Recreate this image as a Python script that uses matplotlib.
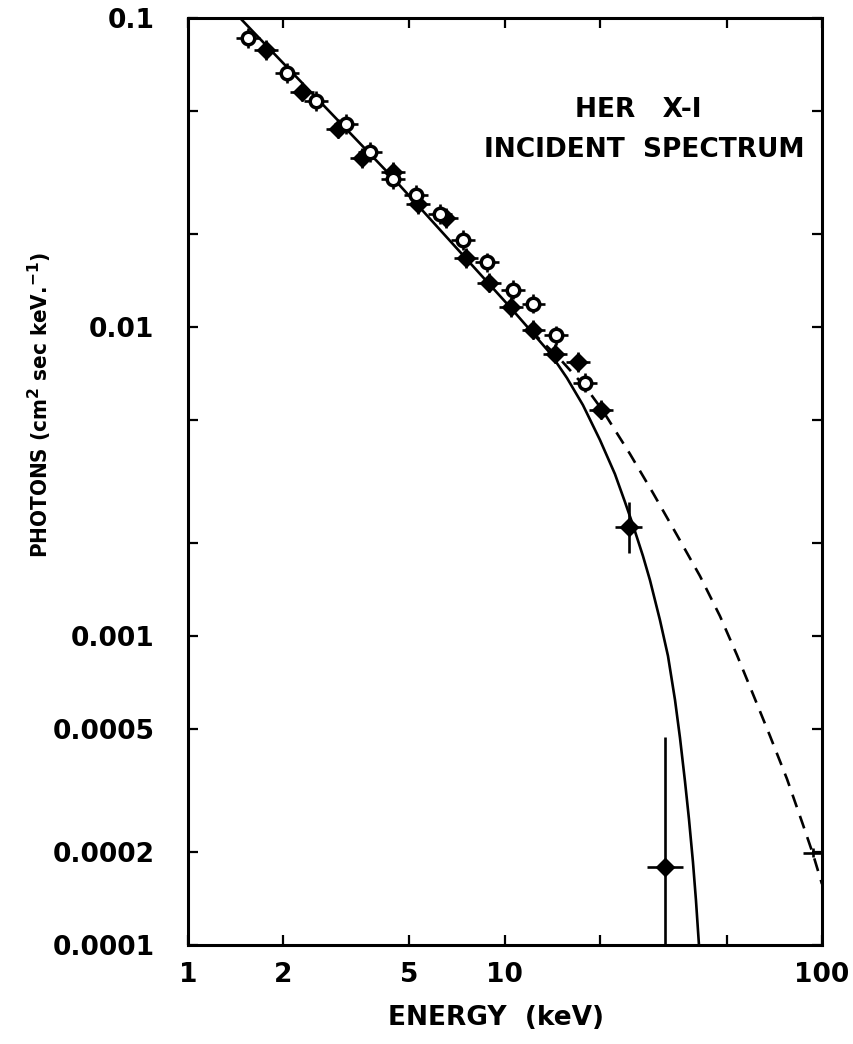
import numpy as np
import matplotlib
matplotlib.use("Agg")
import matplotlib.pyplot as plt
from matplotlib.ticker import FixedLocator, NullFormatter

# energies (keV) and photon flux
FILLED_E = [1.76, 2.29, 2.97, 3.54, 4.43, 5.32, 6.52, 7.53, 8.91, 10.45, 12.3, 14.4, 17.0, 20.1]
FILLED_F = [0.0788, 0.0577, 0.0438, 0.0352, 0.0318, 0.025, 0.0225, 0.0167, 0.0139, 0.0116, 0.0098, 0.0082, 0.0077, 0.0054]

OPEN_E = [1.55, 2.05, 2.53, 3.15, 3.75, 4.43, 5.24, 6.24, 7.37, 8.77, 10.6, 12.3, 14.5, 17.9]
OPEN_F = [0.0861, 0.0664, 0.0539, 0.0454, 0.0368, 0.0301, 0.0267, 0.0232, 0.0191, 0.0162, 0.0132, 0.0119, 0.0094, 0.0066]

# high-energy points with their own (wider) error bars
HI_E = [24.6, 32.0]
HI_F = [0.00225, 0.000179]
HI_E_LO = [22.2, 28.0]
HI_E_HI = [27.0, 36.4]
HI_F_LO = [0.00186, 0.00005]
HI_F_HI = [0.00272, 0.00047]

# lone cross on the dashed curve
CROSS_E = [93.7]
CROSS_F = [0.000199]
CROSS_E_LO = [87.0]
CROSS_E_HI = [100.0]

# estimated relative error bar half-widths of the small points
XERR_FRAC = 0.09
YERR_FRAC = 0.075

# solid curve
SOLID_E = [1.46, 4.43, 10.37, 12.0, 13.87, 15.69, 17.62, 19.94, 22.23, 23.91, 25.34, 27.25, 28.67,
           30.83, 32.68, 34.39, 35.66, 36.97, 38.06, 39.18, 40.04, 40.63, 40.93]
SOLID_F = [0.1, 0.0304, 0.01161, 0.00978, 0.00824, 0.00684, 0.00559, 0.00431, 0.003344, 0.002715,
           0.002286, 0.001815, 0.001517, 0.001126, 0.000862, 0.000621, 0.000468, 0.000339, 0.0002557,
           0.0001856, 0.0001398, 0.0001118, 0.0001]

# dashed curve
DASH_E = [12.0, 14.91, 18.15, 20.38, 24.8, 29.31, 34.87, 41.22, 47.67, 53.93, 60.57, 68.55, 77.54,
          87.12, 93.67, 100.0]
DASH_F = [0.00978, 0.00788, 0.0063, 0.005349, 0.003882, 0.002903, 0.002123, 0.001564, 0.00116,
          0.000868, 0.000649, 0.000475, 0.000345, 0.000245, 0.000197, 0.0001576]

XTICKS = [1, 2, 5, 10, 100]
XTICK_LABELS = ["1", "2", "5", "10", "100"]
XMINOR = [20, 50]
YTICKS = [0.0001, 0.0002, 0.0005, 0.001, 0.01, 0.1]
YTICK_LABELS = ["0.0001", "0.0002", "0.0005", "0.001", "0.01", "0.1"]
YMINOR = [0.002, 0.005, 0.02, 0.05]


def main():
    plt.rcParams["font.weight"] = "bold"
    plt.rcParams["axes.labelweight"] = "bold"
    fig = plt.figure(figsize=(8.54, 10.44), dpi=100)
    ax = fig.add_axes([0.220, 0.0948, 0.7425, 0.888])
    ax.set_xscale("log")
    ax.set_yscale("log")
    ax.set_xlim(1, 100)
    ax.set_ylim(0.0001, 0.1)

    ax.plot(SOLID_E, SOLID_F, color="black", lw=1.9, zorder=2)
    ax.plot(DASH_E, DASH_F, color="black", lw=1.9, ls=(0, (5, 3.5)), zorder=2)

    fe = np.array(FILLED_E)
    ff = np.array(FILLED_F)
    ax.errorbar(fe, ff,
                xerr=[fe - fe / (1 + XERR_FRAC), fe * XERR_FRAC],
                yerr=[ff - ff / (1 + YERR_FRAC), ff * YERR_FRAC],
                fmt="D", ms=9, color="black", mfc="black", elinewidth=1.9, capsize=0, zorder=4)

    oe = np.array(OPEN_E)
    of = np.array(OPEN_F)
    ax.errorbar(oe, of,
                xerr=[oe - oe / (1 + XERR_FRAC), oe * XERR_FRAC],
                yerr=[of - of / (1 + YERR_FRAC), of * YERR_FRAC],
                fmt="o", ms=9, color="black", mfc="white", mew=2.5, elinewidth=1.9, capsize=0, zorder=5)

    he = np.array(HI_E)
    hf = np.array(HI_F)
    ax.errorbar(he, hf,
                xerr=[he - np.array(HI_E_LO), np.array(HI_E_HI) - he],
                yerr=[hf - np.array(HI_F_LO), np.array(HI_F_HI) - hf],
                fmt="D", ms=9, color="black", elinewidth=1.9, capsize=0, zorder=4)

    ce = np.array(CROSS_E)
    cf = np.array(CROSS_F)
    ax.errorbar(ce, cf,
                xerr=[ce - np.array(CROSS_E_LO), np.array(CROSS_E_HI) - ce],
                yerr=[cf * 0.035, cf * 0.035],
                fmt="none", color="black", elinewidth=1.9, capsize=0, zorder=4, clip_on=False)

    ax.xaxis.set_major_locator(FixedLocator(XTICKS))
    ax.set_xticklabels(XTICK_LABELS)
    ax.xaxis.set_minor_locator(FixedLocator(XMINOR))
    ax.xaxis.set_minor_formatter(NullFormatter())
    ax.yaxis.set_major_locator(FixedLocator(YTICKS))
    ax.set_yticklabels(YTICK_LABELS)
    ax.yaxis.set_minor_locator(FixedLocator(YMINOR))
    ax.yaxis.set_minor_formatter(NullFormatter())

    ax.tick_params(which="both", direction="in", length=7, width=1.6,
                   top=True, right=True, labelsize=19)
    ax.tick_params(axis="x", pad=12)
    ax.tick_params(axis="y", pad=24)
    for s in ax.spines.values():
        s.set_linewidth(2.2)

    ax.set_xlabel("ENERGY  (keV)", fontsize=19, va="center")
    ax.xaxis.set_label_coords(0.486, -0.0787)
    ax.set_ylabel("PHOTONS (cm$^{2}$ sec keV.$^{-1}$)", fontsize=16, fontstretch="condensed", va="center")
    ax.yaxis.set_label_coords(-0.233, 0.5825)

    ax.text(0.7098, 0.9007, "HER   X-I", transform=ax.transAxes, ha="center", va="center", fontsize=19)
    ax.text(0.7192, 0.8576, "INCIDENT  SPECTRUM", transform=ax.transAxes, ha="center", va="center", fontsize=19)

    fig.savefig("out.png", dpi=100)


if __name__ == "__main__":
    main()
